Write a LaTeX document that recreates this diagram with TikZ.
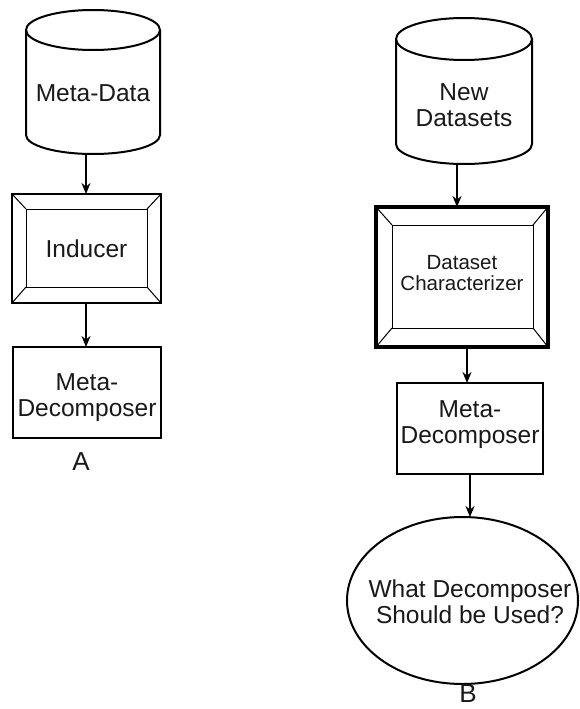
\documentclass[tikz,border=0pt]{standalone}
\usepackage{fontspec}
\setmainfont{Liberation Sans}
\usetikzlibrary{arrows.meta,calc,shapes.geometric}
\begin{document}
\begin{tikzpicture}[x=1pt,y=1pt,
  every node/.style={inner sep=0pt, outer sep=0pt},
  lbl/.style={font=\fontsize{24.5}{26}\selectfont, align=center, text=black!90},
  small/.style={font=\fontsize{20.5}{21.5}\selectfont, align=center, text=black!90},
  letter/.style={font=\fontsize{26}{27}\selectfont, text=black!90},
  holder/.style={rectangle, draw=none},
  plainbox/.style={rectangle, draw, line width=2pt},
  bevelbox/.style={rectangle, draw, line width=2.6pt},
  thickbevel/.style={rectangle, draw, line width=3.6pt},
  thinline/.style={line width=1pt},
  cyl/.style={line width=2pt},
  arr/.style={line width=2pt, -{Stealth[length=11pt,width=9pt]}}
]
\useasboundingbox (0,0) rectangle (579,-709);

% ---------- left column ----------
% cylinder Meta-Data
\node[holder, minimum width=134, minimum height=144] (mdc) at (93,-82) {};
\draw[cyl] (93,-30) ellipse [x radius=67, y radius=20];
\draw[cyl] (26,-30) -- (26,-135) arc[start angle=180, end angle=360, x radius=67, y radius=19] -- (160,-30);
\node[lbl] (mdt) at (93,-93) {Meta-Data};

% Inducer
\node[bevelbox, minimum width=149, minimum height=109] (ind) at (86.5,-248.5) {};
\draw[thinline] ($(ind.north west)+(14,-15)$) rectangle ($(ind.south east)+(-14,16)$);
\draw[thinline] (ind.north west) -- ++(14,-15);
\draw[thinline] (ind.north east) -- ++(-14,-15);
\draw[thinline] (ind.south west) -- ++(14,16);
\draw[thinline] (ind.south east) -- ++(-14,16);
\node[lbl] (indt) at (ind.center) {Inducer};

% Meta-Decomposer (left)
\node[plainbox, minimum width=148, minimum height=91] (mdl) at (87,-392.5) {};
\node[lbl] (mdlt) at (87,-398) {Meta-\\Decomposer};
\node[letter] (la) at (81,-462) {A};

\draw[arr] ($(mdc.south)+(-7,0)$) -- ($(ind.north)+(-0.5,0)$);
\draw[arr] ($(ind.south)+(-0.5,0)$) -- ($(mdl.north)+(-1,0)$);

% ---------- right column ----------
% cylinder New Datasets
\node[holder, minimum width=136, minimum height=146] (ndc) at (464,-91) {};
\draw[cyl] (464,-39) ellipse [x radius=68, y radius=21];
\draw[cyl] (396,-39) -- (396,-144) arc[start angle=180, end angle=360, x radius=68, y radius=20] -- (532,-39);
\node[lbl] (ndt) at (464,-105) {New\\Datasets};

% Dataset Characterizer
\node[thickbevel, minimum width=172, minimum height=140] (dc) at (462,-277) {};
\draw[thinline] ($(dc.north west)+(16,-18)$) rectangle ($(dc.south east)+(-15,19)$);
\draw[thinline] (dc.north west) -- ++(16,-18);
\draw[thinline] (dc.north east) -- ++(-15,-18);
\draw[thinline] (dc.south west) -- ++(16,19);
\draw[thinline] (dc.south east) -- ++(-15,19);
\node[small] (dct) at (462,-273) {Dataset\\Characterizer};

% Meta-Decomposer (right)
\node[plainbox, minimum width=146, minimum height=91] (mdr) at (470,-428.5) {};
\node[lbl] (mdrt) at (470,-425) {Meta-\\Decomposer};

% Ellipse
\node[ellipse, draw, line width=2pt, minimum width=231, minimum height=167] (wd) at (462.5,-600.5) {};
\node[lbl] (wdt) at (470,-602) {What Decomposer\\Should be Used?};
\node[letter, anchor=base] (lb) at (468,-702) {B};

\draw[arr] ($(ndc.south)+(-7,0)$) -- ($(dc.north)+(-5,0)$);
\draw[arr] ($(dc.south)+(5,0)$) -- ($(mdr.north)+(-3,0)$);
\draw[arr] (mdr.south) -- (mdr.south |- wd.north);
\end{tikzpicture}
\end{document}
